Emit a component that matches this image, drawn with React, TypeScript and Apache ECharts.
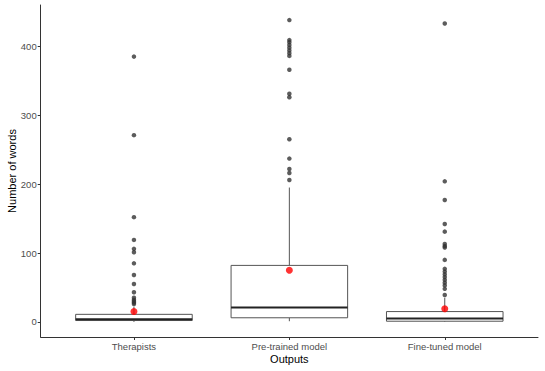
import React, { useEffect, useRef } from "react";
import * as echarts from "echarts";

const categories = ["Therapists", "Pre-trained model", "Fine-tuned model"];
const yTicks = [0, 100, 200, 300, 400];

// [whiskerLow, Q1, median, Q3, whiskerHigh]
const therapistsBox = [0, 2, 4, 11, 22];
const pretrainedBox = [1, 6, 21, 82, 195];
const finetunedBox = [0, 1, 5, 15, 35];

const therapistsOutliers = [385, 271, 152, 119, 106, 101, 85, 68, 55, 43, 35, 32, 30, 28, 26];
const pretrainedOutliers = [438, 409, 406, 402, 398, 394, 390, 386, 366, 331, 326, 265, 237, 222, 216, 206];
const finetunedOutliers = [433, 204, 177, 142, 131, 113, 110, 108, 90, 77, 73, 69, 65, 61, 57, 53, 48, 39];

const means = [15, 75, 19];

const boxes = [therapistsBox, pretrainedBox, finetunedBox];
const outliers = [therapistsOutliers, pretrainedOutliers, finetunedOutliers];

export default function App() {
  const ref = useRef<HTMLDivElement>(null);
  useEffect(() => {
    if (!ref.current) return;
    const chart = echarts.init(ref.current, null, { renderer: "svg" });
    const font = "'Liberation Sans', Arial, sans-serif";
    const boxData = boxes.map((b, i) => [i + 1, ...b]);
    const outlierData: number[][] = [];
    outliers.forEach((arr, i) => arr.forEach((v) => outlierData.push([i + 1, v])));
    const meanData = means.map((m, i) => [i + 1, m]);
    chart.setOption({
      animation: false,
      backgroundColor: "#ffffff",
      grid: { left: 40.7, right: 7, top: 5, bottom: 34, containLabel: false, outerBoundsMode: "none" },
      xAxis: {
        type: "value",
        min: 0.4,
        max: 3.6,
        name: "Outputs",
        nameLocation: "middle",
        nameGap: 16,
        nameMoveOverlap: false,
        nameTextStyle: { color: "#000", fontSize: 11, fontFamily: font },
        axisLine: { show: true, onZero: false, lineStyle: { color: "#333", width: 1 } },
        axisTick: { show: true, customValues: [1, 2, 3], length: 3, lineStyle: { color: "#333", width: 1 } },
        axisLabel: {
          customValues: [1, 2, 3],
          formatter: (v: number) => categories[Math.round(v) - 1] || "",
          color: "#4d4d4d",
          fontSize: 9.5,
          fontFamily: font,
          margin: 4,
        },
        splitLine: { show: false },
      },
      yAxis: {
        type: "value",
        min: -21.9,
        max: 459.9,
        name: "Number of words",
        nameLocation: "middle",
        nameGap: 23,
        nameMoveOverlap: false,
        nameRotate: 90,
        nameTextStyle: { color: "#000", fontSize: 11, fontFamily: font },
        axisLine: { show: true, onZero: false, lineStyle: { color: "#333", width: 1 } },
        axisTick: { show: true, customValues: yTicks, length: 3, lineStyle: { color: "#333", width: 1 } },
        axisLabel: {
          customValues: yTicks,
          color: "#4d4d4d",
          fontSize: 9.5,
          fontFamily: font,
          margin: 4,
        },
        splitLine: { show: false },
      },
      series: [
        {
          type: "custom",
          data: boxData,
          encode: { x: 0, y: [1, 2, 3, 4, 5] },
          renderItem: (params: any, api: any) => {
            const x = api.value(0);
            const lo = api.coord([x, api.value(1)]);
            const q1 = api.coord([x, api.value(2)]);
            const med = api.coord([x, api.value(3)]);
            const q3 = api.coord([x, api.value(4)]);
            const hi = api.coord([x, api.value(5)]);
            const w = api.size([0.75, 0])[0];
            const left = q1[0] - w / 2;
            const stroke = "#555";
            return {
              type: "group",
              children: [
                { type: "line", shape: { x1: q3[0], y1: hi[1], x2: q3[0], y2: q3[1] }, style: { stroke, lineWidth: 1 } },
                { type: "line", shape: { x1: q1[0], y1: q1[1], x2: q1[0], y2: lo[1] }, style: { stroke, lineWidth: 1 } },
                { type: "rect", shape: { x: left, y: q3[1], width: w, height: q1[1] - q3[1] }, style: { fill: "#fff", stroke, lineWidth: 1 } },
                { type: "line", shape: { x1: left, y1: med[1], x2: left + w, y2: med[1] }, style: { stroke: "#222", lineWidth: 2 } },
              ],
            };
          },
          z: 1,
        },
        {
          type: "scatter",
          data: outlierData,
          symbolSize: 4.5,
          itemStyle: { color: "#333" },
          z: 2,
        },
        {
          type: "scatter",
          data: meanData,
          symbolSize: 7,
          itemStyle: { color: "#ff0000" },
          z: 3,
        },
      ],
    });
    return () => chart.dispose();
  }, []);
  return <div ref={ref} style={{ width: 545, height: 371, position: "absolute", left: 0, top: 0 }} />;
}
